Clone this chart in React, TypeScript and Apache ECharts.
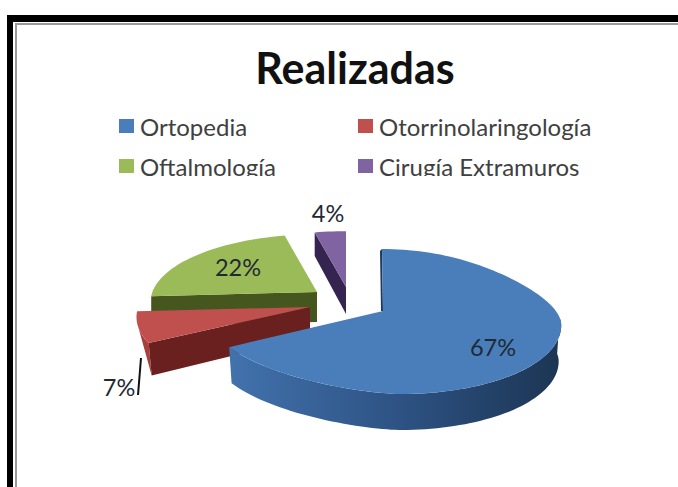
import React, { useEffect, useRef } from "react";
import * as echarts from "echarts";

const categories = ["Ortopedia", "Otorrinolaringología", "Oftalmología", "Cirugía Extramuros"];
const shares = [66.9, 7.1, 22.4, 3.6];
const topColors = ["#4a7ebb", "#c0504d", "#9bbb59", "#8064a2"];
const sideColors = ["#2d5282", "#6a201e", "#46561f", "#35244f"];

// Slice layout: apex position, size factor, extrusion depth, label position
const apexX = [383, 310, 317, 346];
const apexY = [311, 307, 292, 287];
const scales = [1, 0.97, 0.93, 0.9];
const depths = [36, 30, 30, 27];
const labelX = [493, 119, 238, 328];
const labelY = [347, 387, 267, 213];

const RX = 177;
const RY = 71;
const K = 0.145;
const DEG = Math.PI / 180;

// The big slice's rim is an off-centre, slightly skewed outline around its apex
const BIG_CX = 391;
const BIG_CY = 321.5;
const BIG_A = 170;
const BIG_A_LEFT = 180;
const BIG_B = 9;
const BIG_C = 72.5;
const BIG_WARP = 1.035;

function project(i: number, deg: number, drop = 0, shrink = 1): number[] {
  if (i === 0) {
    const th = deg * BIG_WARP * DEG;
    const u = Math.sin(th);
    const v = -Math.cos(th);
    const t = Math.min(1, Math.max(0, (v + 0.95) / 1.0));
    const f = 0.88 + 0.12 * t * t * (3 - 2 * t);
    const across = u >= 0 ? BIG_A * u * f : -BIG_A_LEFT * Math.pow(-u, 1.3);
    return [BIG_CX + shrink * (across + BIG_B * v), BIG_CY + BIG_C * v + drop];
  }
  const u = Math.sin(deg * DEG);
  const v = -Math.cos(deg * DEG);
  const s = 1 / (1 - K * v);
  return [
    apexX[i] + scales[i] * RX * u * s,
    apexY[i] + scales[i] * RY * v * s + drop * s,
  ];
}

function arcPoints(i: number, from: number, to: number, drop = 0, shrink = 1): number[][] {
  const pts: number[][] = [];
  const steps = Math.max(2, Math.ceil(Math.abs(to - from) / 2));
  for (let k = 0; k <= steps; k++) {
    pts.push(project(i, from + ((to - from) * k) / steps, drop, shrink));
  }
  return pts;
}

function sliceAngles(): number[][] {
  const total = shares.reduce((a, b) => a + b, 0);
  let cur = 0;
  return shares.map((v) => {
    const a = cur;
    cur += (v / total) * 360;
    return [a, cur];
  });
}

function renderSlice(i: number) {
  const [a0, a1] = sliceAngles()[i];
  const apex = [apexX[i], apexY[i]];
  const d = depths[i];
  const side = sideColors[i];
  const children: any[] = [];
  const poly = (points: number[][], fill: any) => ({
    type: "polygon",
    shape: { points },
    style: { fill, stroke: "none" },
  });

  if (i === 0) {
    const rimTop = arcPoints(i, 84, a1);
    const rimBottom = arcPoints(i, 84, a1, d, 0.985).reverse();
    children.push(
      poly(
        rimTop.concat(rimBottom),
        new echarts.graphic.LinearGradient(1, 0, 0, 0, [
          { offset: 0, color: "#1c3553" },
          { offset: 0.45, color: "#2c5080" },
          { offset: 1, color: "#4272ad" },
        ])
      )
    );
    const t = project(i, a0);
    children.push(poly([t, apex, [apex[0] - 2, apex[1]], [t[0] - 2, t[1] + 2]], "#1e3a5f"));
  } else {
    const e = project(i, a0);
    const eb = project(i, a0, d);
    if (i === 1) {
      eb[0] += 3;
      children.push(poly(arcPoints(i, a0, a0 + 12).concat([eb]), "#a83f3b"));
    }
    children.push(poly([apex, e, eb, [apex[0], apex[1] + d]], side));
  }

  children.push(poly([apex].concat(arcPoints(i, a0, a1)), topColors[i]));
  return { type: "group", children };
}

function renderLabel(i: number) {
  return {
    type: "text",
    x: labelX[i],
    y: labelY[i],
    style: {
      text: Math.round(shares[i]) + "%",
      font: "23.5px Lato",
      fill: "#1f2a33",
      align: "center",
      verticalAlign: "middle",
    },
  };
}

export default function App() {
  const ref = useRef<HTMLDivElement>(null);
  useEffect(() => {
    const chart = echarts.init(ref.current!, undefined, { renderer: "svg" });
    const order = [3, 2, 1, 0];
    const legendStyle = {
      orient: "vertical" as const,
      padding: 0,
      itemWidth: 15,
      itemHeight: 14,
      itemGap: 16,
      icon: "rect",
      textStyle: { fontFamily: "Lato", fontSize: 24, color: "#404040", padding: [0, 0, 0, 1] },
    };
    chart.setOption({
      animation: false,
      backgroundColor: "#ffffff",
      title: {
        text: "Realizadas",
        left: 350,
        top: 41,
        textAlign: "center",
        textStyle: { fontFamily: "Lato", fontSize: 43, fontWeight: "bold", color: "#111111" },
      },
      legend: [
        { ...legendStyle, left: 119, top: 114, data: [categories[0], categories[2]] },
        { ...legendStyle, left: 358, top: 114, data: [categories[1], categories[3]] },
      ],
      graphic: [
        { type: "rect", shape: { x: 7, y: 15, width: 671, height: 7 }, style: { fill: "#000" }, z: 1 },
        { type: "rect", shape: { x: 7, y: 15, width: 6, height: 472 }, style: { fill: "#000" }, z: 1 },
        { type: "rect", shape: { x: 15, y: 23, width: 663, height: 2 }, style: { fill: "#999" }, z: 1 },
        { type: "rect", shape: { x: 15, y: 23, width: 2, height: 464 }, style: { fill: "#999" }, z: 1 },
        { type: "rect", shape: { x: 100, y: 176, width: 520, height: 10 }, style: { fill: "#fff" }, z: 100 },
        { type: "line", shape: { x1: 138, y1: 395, x2: 141, y2: 358 }, style: { stroke: "#111", lineWidth: 2 }, z: 50 },
      ],
      series: order
        .map((i) => ({
          type: "custom",
          name: categories[i],
          coordinateSystem: "none",
          itemStyle: { color: topColors[i] },
          data: [shares[i]],
          renderItem: () => renderSlice(i),
          z: 10 + (3 - i),
          silent: true,
        }))
        .concat(
          order.map((i) => ({
            type: "custom",
            name: "label-" + categories[i],
            coordinateSystem: "none",
            itemStyle: { color: topColors[i] },
            data: [shares[i]],
            renderItem: () => renderLabel(i),
            z: 20,
            silent: true,
          }))
        ),
    });
    return () => chart.dispose();
  }, []);
  return <div ref={ref} style={{ position: "fixed", left: 0, top: 0, width: 678, height: 487 }} />;
}
